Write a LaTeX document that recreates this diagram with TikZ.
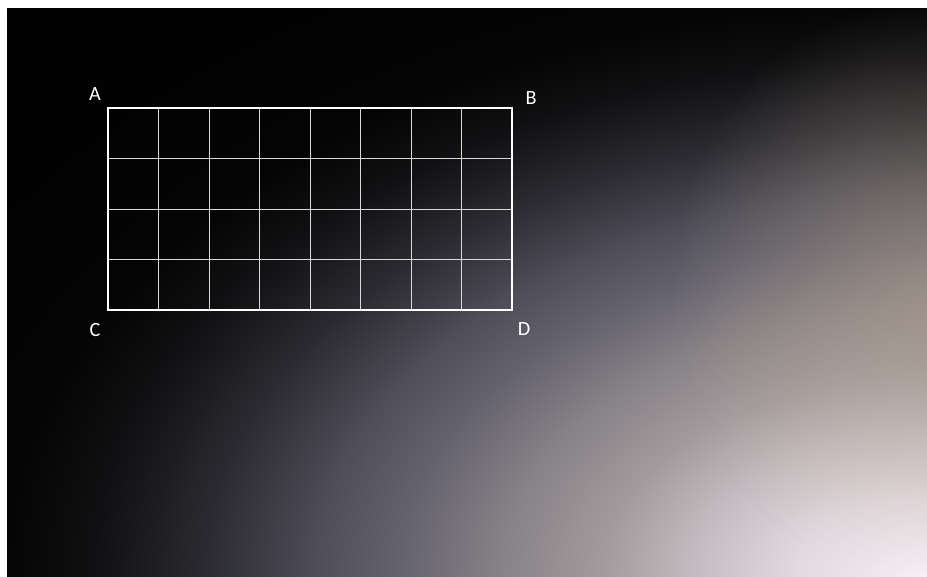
\documentclass[tikz,border=0pt]{standalone}
\usepackage{fontspec}
\setmainfont{Carlito}
\usetikzlibrary{calc,fadings}
\definecolor{glowa}{RGB}{248,240,247}
\definecolor{glowb}{RGB}{226,218,224}
\definecolor{glowc}{RGB}{196,188,192}
\definecolor{glowd}{RGB}{162,155,158}
\definecolor{glowe}{RGB}{135,130,134}
\definecolor{glowf}{RGB}{100,98,110}
\definecolor{glowg}{RGB}{78,77,88}
\definecolor{glowh}{RGB}{42,42,48}
\definecolor{glowi}{RGB}{16,16,18}
\definecolor{glowj}{RGB}{4,4,4}
\definecolor{warmtone}{RGB}{190,170,145}
\pgfdeclareradialshading{slideglow}{\pgfpoint{0bp}{0bp}}{%
  color(0bp)=(glowa); color(2.41bp)=(glowb); color(4.31bp)=(glowc);
  color(6.03bp)=(glowd); color(7.93bp)=(glowe); color(9.83bp)=(glowf);
  color(11.38bp)=(glowg); color(13.45bp)=(glowh); color(15.52bp)=(glowi);
  color(17.24bp)=(glowj); color(25bp)=(black); color(50bp)=(black)}
\tikzfading[name=warmspot, inner color=transparent!55, outer color=transparent!100]

\begin{document}
\begin{tikzpicture}[
    x=0.02cm, y=-0.02cm,
    corner/.style={text=white, font=\fontsize{11.5}{13}\selectfont, inner sep=0pt},
    gridline/.style={white!85!black, line width=0.5pt},
    frame/.style={white, line width=1.5pt}
]
\useasboundingbox (0,0) rectangle (927,576);
\fill[white] (0,0) rectangle (927,576);
% backdrop
\begin{scope}
  \clip (7,8) rectangle (927,576);
  \fill[black] (7,8) rectangle (927,576);
  \shade[shading=slideglow] (927,576) ellipse [x radius=1344, y radius=835];
  \fill[warmtone, path fading=warmspot] (927,290) ellipse [x radius=260, y radius=290];
\end{scope}
\coordinate (A) at (108,108);
\coordinate (B) at (512,108);
\coordinate (C) at (108,310);
\coordinate (D) at (512,310);
\foreach \gx in {1,...,7}
  \draw[gridline] ($(A)!\gx/8!(B)$) -- ($(C)!\gx/8!(D)$);
\foreach \gy in {1,2,3}
  \draw[gridline] ($(A)!\gy/4!(C)$) -- ($(B)!\gy/4!(D)$);
\draw[frame] (A) -- (B) -- (D) -- (C) -- cycle;
\node[corner] (la) at (95,94) {A};
\node[corner] (lb) at (531,98) {B};
\node[corner] (lc) at (95,330) {C};
\node[corner] (ld) at (524,329) {D};
\end{tikzpicture}
\end{document}
